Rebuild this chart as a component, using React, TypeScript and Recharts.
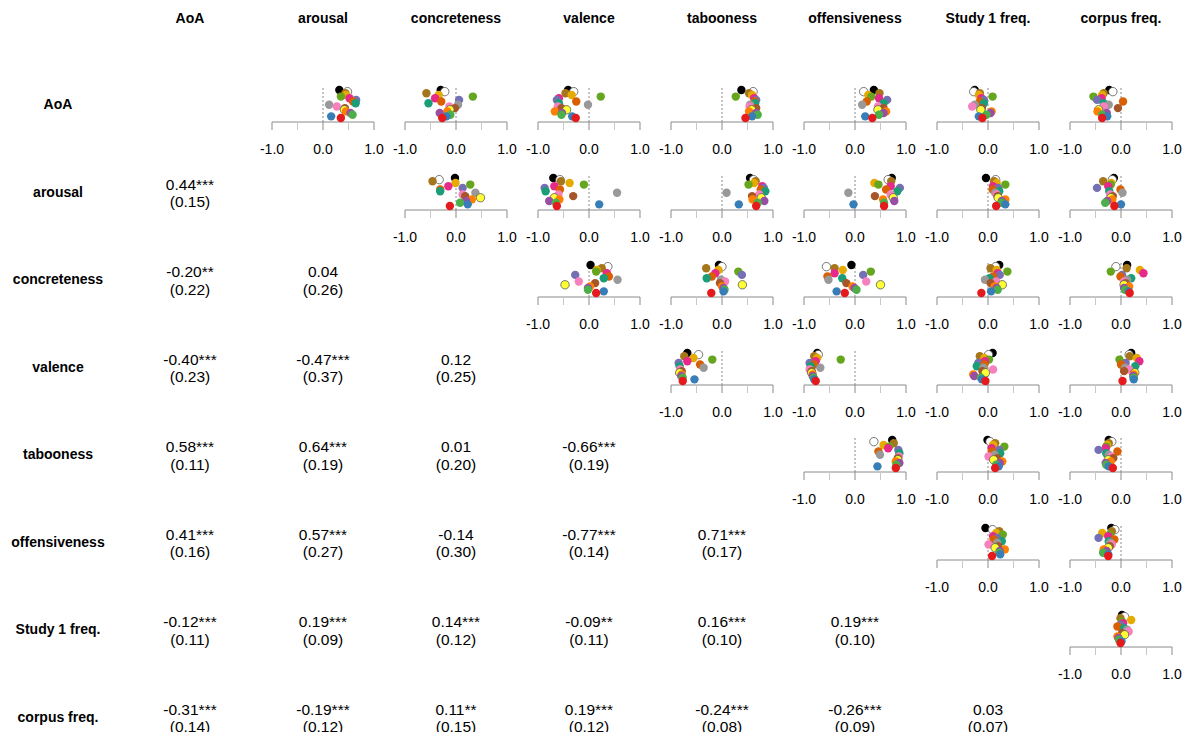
import React from "react";
import { ScatterChart, Scatter, XAxis, YAxis, ReferenceLine } from "recharts";

const VARIABLES = [
  "AoA",
  "arousal",
  "concreteness",
  "valence",
  "tabooness",
  "offensiveness",
  "Study 1 freq.",
  "corpus freq.",
];

// one colour per study, listed from the top dot to the bottom dot
const STUDY_COLORS = [
  "#000000", "#FFFFFF", "#A6761D", "#E6AB02", "#66A61E", "#E7298A",
  "#7570B3", "#D95F02", "#1B9E77", "#999999", "#F781BF", "#A65628",
  "#FFFF33", "#FF7F00", "#984EA3", "#4DAF4A", "#377EB8", "#E41A1C",
];

// per-study correlations, same order as STUDY_COLORS
const aoaArousal = [0.32, 0.48, 0.44, 0.45, 0.35, 0.52, 0.65, 0.59, 0.64, 0.12, 0.27, 0.43, 0.42, 0.45, 0.54, 0.58, 0.16, 0.35];
const aoaConcreteness = [-0.3, -0.22, -0.58, -0.34, 0.33, -0.41, 0.06, -0.29, -0.54, 0.04, -0.13, -0.02, -0.12, -0.17, -0.32, -0.11, -0.19, -0.27];
const aoaValence = [-0.41, -0.3, -0.46, -0.34, 0.23, -0.59, -0.63, -0.25, -0.59, -0.02, -0.61, -0.54, -0.44, -0.67, -0.53, -0.54, -0.33, -0.26];
const aoaTabooness = [0.38, 0.61, 0.53, 0.59, 0.27, 0.63, 0.67, 0.64, 0.65, 0.55, 0.54, 0.67, 0.58, 0.53, 0.67, 0.7, 0.59, 0.46];
const aoaOffensiveness = [0.37, 0.17, 0.48, 0.26, 0.32, 0.47, 0.63, 0.23, 0.56, 0.14, 0.45, 0.56, 0.45, 0.61, 0.56, 0.47, 0.2, 0.34];
const aoaStudy1 = [-0.26, -0.28, -0.16, -0.18, 0.09, -0.13, -0.08, -0.16, -0.08, -0.26, -0.31, -0.12, -0.14, 0.07, 0.05, -0.03, -0.18, -0.11];
const aoaCorpus = [-0.23, -0.16, -0.34, -0.37, -0.54, -0.38, -0.47, 0.04, -0.34, -0.24, -0.34, -0.06, -0.44, -0.46, -0.28, -0.37, -0.27, -0.37];

const arousalConcreteness = [-0.02, -0.33, -0.46, -0.01, 0.28, -0.15, 0.13, -0.31, -0.31, 0.38, 0.13, 0.18, 0.48, 0.31, 0.2, 0.08, 0.23, -0.12];
const arousalValence = [-0.7, -0.57, -0.55, -0.38, -0.1, -0.68, -0.87, -0.57, -0.85, 0.55, -0.6, -0.31, -0.68, -0.58, -0.78, -0.65, 0.2, -0.63];
const arousalTabooness = [0.55, 0.62, 0.66, 0.63, 0.52, 0.79, 0.82, 0.76, 0.85, 0.09, 0.73, 0.59, 0.77, 0.6, 0.83, 0.7, 0.33, 0.67];
const arousalOffensiveness = [0.72, 0.65, 0.71, 0.38, 0.46, 0.7, 0.88, 0.61, 0.83, -0.13, 0.7, 0.39, 0.75, 0.55, 0.77, 0.57, -0.03, 0.57];
const arousalStudy1 = [-0.04, 0.15, 0.12, 0.17, 0.34, 0.1, 0.2, 0.09, 0.22, 0.14, 0.17, 0.19, 0.2, 0.34, 0.27, 0.27, 0.34, 0.16];
const arousalCorpus = [-0.14, -0.17, -0.35, -0.19, -0.2, -0.25, -0.47, -0.01, -0.23, 0.03, -0.21, -0.16, -0.2, -0.17, -0.27, -0.31, 0.0, -0.13];

const concretenessValence = [0.03, 0.37, 0.25, 0.15, 0.14, 0.35, -0.27, 0.39, 0.29, 0.56, -0.2, 0.12, -0.47, 0.02, -0.02, -0.02, 0.29, 0.14];
const concretenessTabooness = [-0.06, 0.0, -0.31, -0.07, 0.32, -0.13, 0.39, -0.2, -0.3, -0.02, 0.06, -0.04, 0.4, 0.0, 0.03, 0.05, 0.03, -0.21];
const concretenessOffensiveness = [-0.07, -0.56, -0.4, -0.24, 0.31, -0.4, 0.16, -0.54, -0.25, -0.52, 0.22, -0.17, 0.5, -0.05, -0.01, 0.03, -0.36, -0.2];
const concretenessStudy1 = [0.22, 0.15, 0.05, 0.17, 0.38, 0.19, 0.23, 0.1, 0.03, -0.06, 0.16, 0.05, 0.28, 0.13, 0.17, 0.19, 0.06, -0.13];
const concretenessCorpus = [0.12, -0.1, 0.11, 0.37, -0.2, 0.44, 0.02, -0.01, 0.2, 0.12, 0.06, 0.09, 0.06, 0.16, 0.06, 0.08, 0.15, 0.17];

const valenceTabooness = [-0.68, -0.46, -0.74, -0.56, -0.19, -0.68, -0.85, -0.43, -0.83, -0.36, -0.82, -0.79, -0.83, -0.79, -0.8, -0.77, -0.54, -0.77];
const valenceOffensiveness = [-0.74, -0.72, -0.8, -0.74, -0.28, -0.77, -0.89, -0.8, -0.87, -0.68, -0.89, -0.85, -0.85, -0.83, -0.83, -0.81, -0.8, -0.77];
const valenceStudy1 = [0.09, 0.01, -0.16, -0.07, 0.02, -0.06, -0.19, -0.07, -0.22, -0.09, 0.1, -0.11, -0.05, -0.29, -0.27, -0.14, -0.12, -0.05];
const valenceCorpus = [0.2, 0.16, 0.17, 0.31, -0.03, 0.36, 0.09, 0.0, 0.28, 0.08, 0.16, 0.06, 0.27, 0.25, 0.24, 0.25, 0.25, 0.03];

const taboonessOffensiveness = [0.73, 0.37, 0.76, 0.56, 0.67, 0.65, 0.85, 0.46, 0.87, 0.49, 0.86, 0.84, 0.84, 0.8, 0.87, 0.81, 0.44, 0.8];
const taboonessStudy1 = [-0.01, 0.04, 0.14, 0.1, 0.32, 0.07, 0.22, 0.08, 0.24, 0.13, 0.01, 0.18, 0.11, 0.28, 0.23, 0.16, 0.21, 0.14];
const taboonessCorpus = [-0.24, -0.18, -0.24, -0.27, -0.29, -0.3, -0.44, -0.07, -0.29, -0.24, -0.19, -0.15, -0.25, -0.2, -0.3, -0.29, -0.24, -0.16];

const offensivenessStudy1 = [-0.05, 0.09, 0.22, 0.16, 0.29, 0.1, 0.18, 0.11, 0.27, 0.18, 0.01, 0.2, 0.14, 0.33, 0.23, 0.22, 0.24, 0.08];
const offensivenessCorpus = [-0.19, -0.12, -0.18, -0.37, -0.22, -0.25, -0.44, -0.13, -0.24, -0.21, -0.18, -0.22, -0.25, -0.34, -0.28, -0.35, -0.25, -0.25];

const study1Corpus = [0.02, 0.07, -0.01, 0.2, 0.02, 0.04, -0.01, -0.07, 0.06, 0.12, 0.15, 0.02, 0.07, -0.07, -0.05, -0.04, 0.01, -0.01];

// pairs (row var, col var) in the order used by the summary arrays below
const PAIRS: [number, number, number[]][] = [
  [0, 1, aoaArousal], [0, 2, aoaConcreteness], [0, 3, aoaValence], [0, 4, aoaTabooness],
  [0, 5, aoaOffensiveness], [0, 6, aoaStudy1], [0, 7, aoaCorpus],
  [1, 2, arousalConcreteness], [1, 3, arousalValence], [1, 4, arousalTabooness],
  [1, 5, arousalOffensiveness], [1, 6, arousalStudy1], [1, 7, arousalCorpus],
  [2, 3, concretenessValence], [2, 4, concretenessTabooness], [2, 5, concretenessOffensiveness],
  [2, 6, concretenessStudy1], [2, 7, concretenessCorpus],
  [3, 4, valenceTabooness], [3, 5, valenceOffensiveness], [3, 6, valenceStudy1], [3, 7, valenceCorpus],
  [4, 5, taboonessOffensiveness], [4, 6, taboonessStudy1], [4, 7, taboonessCorpus],
  [5, 6, offensivenessStudy1], [5, 7, offensivenessCorpus],
  [6, 7, study1Corpus],
];

// pooled r, significance and SD across studies (lower triangle)
const meanR = [
  0.44, -0.2, -0.4, 0.58, 0.41, -0.12, -0.31,
  0.04, -0.47, 0.64, 0.57, 0.19, -0.19,
  0.12, 0.01, -0.14, 0.14, 0.11,
  -0.66, -0.77, -0.09, 0.19,
  0.71, 0.16, -0.24,
  0.19, -0.26,
  0.03,
];
const stars = [
  "***", "**", "***", "***", "***", "***", "***",
  "", "***", "***", "***", "***", "***",
  "", "", "", "***", "**",
  "***", "***", "**", "***",
  "***", "***", "***",
  "***", "***",
  "",
];
const sdR = [
  0.15, 0.22, 0.23, 0.11, 0.16, 0.11, 0.14,
  0.26, 0.37, 0.19, 0.27, 0.09, 0.12,
  0.25, 0.2, 0.3, 0.12, 0.15,
  0.19, 0.14, 0.11, 0.12,
  0.17, 0.1, 0.08,
  0.1, 0.09,
  0.07,
];

const FONT = "'Liberation Sans', Arial, sans-serif";
const AXIS_GREY = "#8a8a8a";
const colX = (c: number) => 190 + 133 * c;
const rowY = (r: number) => 104 + 87.5 * r;

function AxisTick(props: any) {
  const { x, y, payload } = props;
  const v = payload.value;
  const major = v === -1 || v === 0 || v === 1;
  return (
    <g>
      <line x1={x} x2={x} y1={y - 8} y2={y} stroke={major ? AXIS_GREY : "#c8c8c8"} />
      {major && (
        <text x={x} y={y + 24} textAnchor="middle" fontSize={14} fontFamily={FONT} fill="#000">
          {v.toFixed(1)}
        </text>
      )}
    </g>
  );
}

function StudyDot(props: any) {
  const { cx, cy, payload } = props;
  const outlined = payload.color === "#FFFFFF" || payload.color === "#FFFF33";
  return (
    <circle
      cx={cx}
      cy={cy}
      r={4.2}
      fill={payload.color}
      stroke={outlined ? "#555" : "none"}
      strokeWidth={0.8}
    />
  );
}

function MiniPlot({ row, col, values }: { row: number; col: number; values: number[] }) {
  const data = values.map((x, i) => ({
    x,
    y: STUDY_COLORS.length - 1 - i,
    color: STUDY_COLORS[i],
  }));
  const axisY = rowY(row) + 18;
  return (
    <div style={{ position: "absolute", left: colX(col) - 67, top: axisY - 44 }}>
      <ScatterChart width={134} height={84} margin={{ top: 8, right: 16, bottom: 0, left: 16 }}>
        <XAxis
          type="number"
          dataKey="x"
          domain={[-1, 1]}
          ticks={[-1, -0.5, 0, 0.5, 1]}
          interval={0}
          tickSize={8}
          tickMargin={0}
          tickLine={false}
          axisLine={{ stroke: AXIS_GREY }}
          tick={(p: any) => <AxisTick {...p} />}
          height={40}
        />
        <YAxis type="number" dataKey="y" domain={[-2.43, 19.43]} hide />
        <ReferenceLine x={0} stroke={AXIS_GREY} strokeDasharray="2 2" />
        <Scatter data={data} shape={(p: any) => <StudyDot {...p} />} isAnimationActive={false} />
      </ScatterChart>
    </div>
  );
}

export default function App() {
  return (
    <div
      style={{
        position: "relative",
        width: 1191,
        height: 740,
        margin: -8,
        background: "#fff",
        overflow: "hidden",
        fontFamily: FONT,
      }}
    >
      <svg width={1191} height={740} style={{ position: "absolute", left: 0, top: 0 }}>
        {VARIABLES.map((v, i) => (
          <text key={"h" + i} x={colX(i)} y={23} textAnchor="middle" fontSize={14} fontWeight="bold" fontFamily={FONT}>
            {v}
          </text>
        ))}
        {VARIABLES.map((v, i) => (
          <text key={"r" + i} x={58} y={rowY(i) + 5} textAnchor="middle" fontSize={14} fontWeight="bold" fontFamily={FONT}>
            {v}
          </text>
        ))}
        {PAIRS.map(([a, b], k) => (
          <g key={"t" + k}>
            <text x={colX(a)} y={rowY(b) - 2} textAnchor="middle" fontSize={15.5} fontFamily={FONT}>
              {meanR[k].toFixed(2) + stars[k]}
            </text>
            <text x={colX(a)} y={rowY(b) + 15.5} textAnchor="middle" fontSize={15.5} fontFamily={FONT}>
              {"(" + sdR[k].toFixed(2) + ")"}
            </text>
          </g>
        ))}
      </svg>
      {PAIRS.map(([a, b, vals], k) => (
        <MiniPlot key={"p" + k} row={a} col={b} values={vals} />
      ))}
    </div>
  );
}
